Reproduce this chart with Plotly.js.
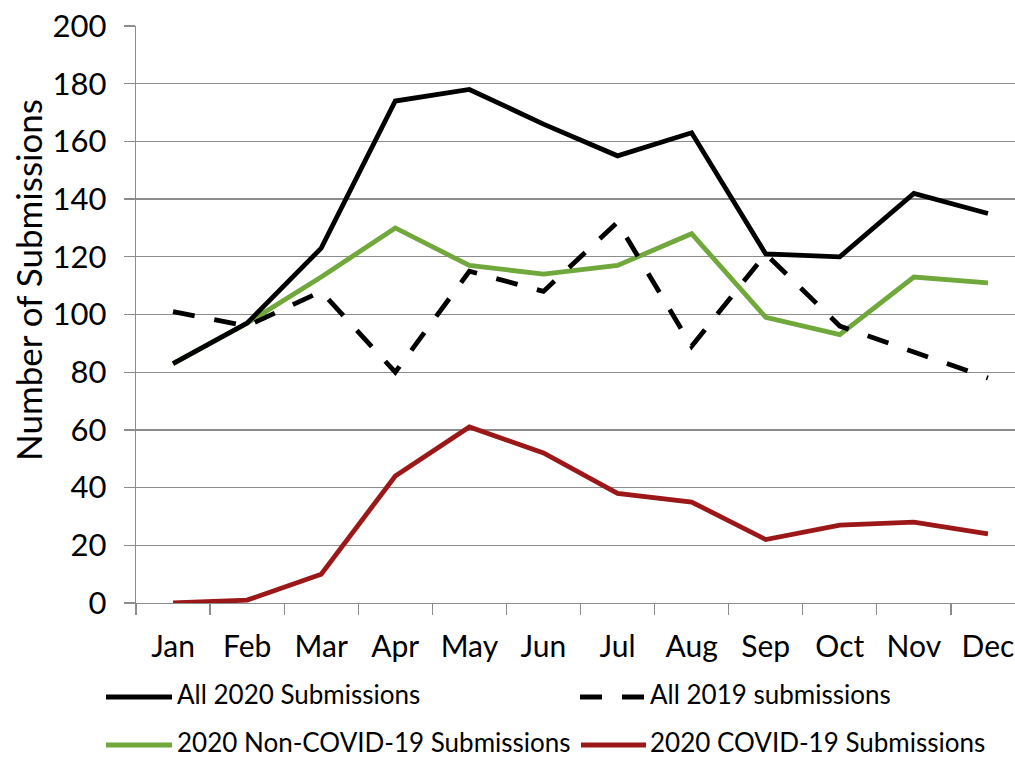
<!DOCTYPE html>
<html>
<head>
<meta charset="utf-8">
<script src="https://cdn.plot.ly/plotly-3.0.1.min.js"></script>
<style>
html, body { margin: 0; padding: 0; overflow: hidden; background: #fff; }
#chart { width: 1040px; height: 760px; }
</style>
</head>
<body>
<div id="chart"></div>
<script>
var months = ["Jan","Feb","Mar","Apr","May","Jun","Jul","Aug","Sep","Oct","Nov","Dec"];
var all2020 = [83, 97, 123, 174, 178, 166, 155, 163, 121, 120, 142, 135];
var all2019 = [101, 96, 108, 80, 115, 108, 132, 89, 121, 96, 87, 78];
var nonCovid2020 = [83, 97, 113, 130, 117, 114, 117, 128, 99, 93, 113, 111];
var covid2020 = [0, 1, 10, 44, 61, 52, 38, 35, 22, 27, 28, 24];
var seriesNames = ["All 2020 Submissions", "All 2019 submissions", "2020 Non-COVID-19 Submissions", "2020 COVID-19 Submissions"];
var yTitle = "Number of Submissions";

var FONT = "Lato, 'Open Sans', sans-serif";
var colors = ["#000000", "#000000", "#70a83b", "#9c1818"];
var dashes = ["solid", "22px,20px", "solid", "solid"];
var values = [all2020, all2019, nonCovid2020, covid2020];

var traces = values.map(function (v, i) {
  return {
    type: "scatter", mode: "lines", x: months, y: v, name: seriesNames[i],
    line: { color: colors[i], width: 4.8, dash: dashes[i] },
    showlegend: false, hoverinfo: "x+y+name"
  };
});
// draw order: covid, non-covid, 2019, 2020 on top
traces = [traces[3], traces[2], traces[1], traces[0]];

// plot area: px 136..1025 horizontally, 26..603 vertically
function px2x(p) { return (p - 136) / 889; }
function py2y(p) { return (603 - p) / 577; }

var legendPos = [
  { x0: 106, x1: 172, tx: 176, y: 694 },
  { x0: 580, x1: 645, tx: 649, y: 694 },
  { x0: 106, x1: 172, tx: 176, y: 742 },
  { x0: 581, x1: 646, tx: 649, y: 742 }
];
var shapes = [];
var annotations = [];
legendPos.forEach(function (p, i) {
  shapes.push({
    type: "line", xref: "paper", yref: "paper",
    x0: px2x(p.x0), x1: px2x(p.x1), y0: py2y(p.y + 3), y1: py2y(p.y + 3),
    line: { color: colors[i], width: 4.8, dash: dashes[i] }
  });
  annotations.push({
    xref: "paper", yref: "paper", x: px2x(p.tx), y: py2y(p.y),
    xanchor: "left", yanchor: "middle", showarrow: false, borderpad: 0,
    text: seriesNames[i], font: { family: FONT, size: 26, color: "#000" }
  });
});
annotations.push({
  xref: "paper", yref: "paper", x: px2x(28), y: py2y(280),
  xanchor: "center", yanchor: "middle", showarrow: false, textangle: -90,
  text: yTitle, font: { family: FONT, size: 35, color: "#000" }
});

var layout = {
  width: 1040, height: 760,
  margin: { l: 136, r: 15, t: 26, b: 157, pad: 0 },
  paper_bgcolor: "#fff", plot_bgcolor: "#fff",
  font: { family: FONT, color: "#000" },
  showlegend: false,
  xaxis: {
    type: "category", range: [-0.5, 11.5], tickson: "boundaries",
    ticks: "outside", ticklen: 11, tickcolor: "#8c8c8c", tickwidth: 1.3,
    showline: true, linecolor: "#8c8c8c", linewidth: 1.3,
    showgrid: false, zeroline: false,
    tickfont: { family: FONT, size: 30, color: "#000" },
    ticklabelstandoff: 17
  },
  yaxis: {
    range: [0, 200], dtick: 20, tick0: 0,
    ticks: "outside", ticklen: 11, tickcolor: "#8c8c8c", tickwidth: 1.3,
    showline: true, linecolor: "#8c8c8c", linewidth: 1.3,
    showgrid: true, gridcolor: "#8c8c8c", gridwidth: 1.3,
    zeroline: false,
    tickfont: { family: FONT, size: 31, color: "#000" },
    ticklabelstandoff: 11
  },
  shapes: shapes,
  annotations: annotations
};

Plotly.newPlot("chart", traces, layout, { displayModeBar: false, staticPlot: true });
</script>
</body>
</html>
